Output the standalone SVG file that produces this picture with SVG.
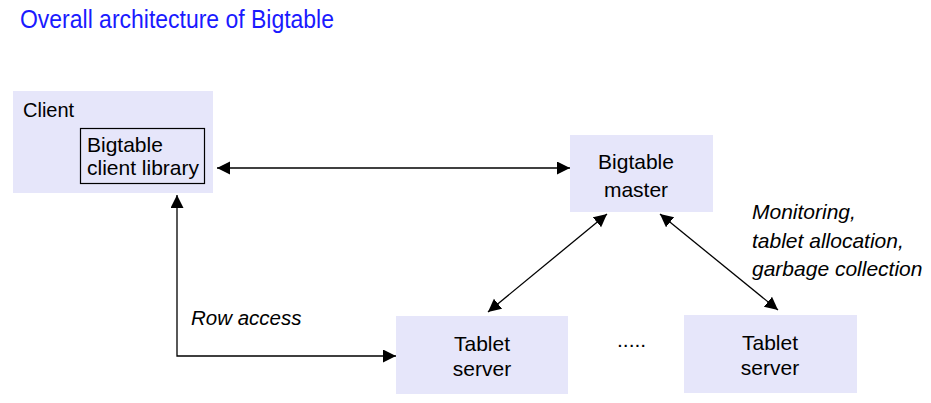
<svg xmlns="http://www.w3.org/2000/svg" width="931" height="403" viewBox="0 0 931 403">
<style>
.box{fill:#e6e6fa;stroke:none}
.inner{fill:#e6e6fa;stroke:#000;stroke-width:1.2}
.t{font-family:"Liberation Sans",Arial,sans-serif;font-size:21px;fill:#000}
.c{text-anchor:middle}
.i{font-style:italic;font-size:20.5px}
.title{font-family:"Liberation Sans",Arial,sans-serif;font-size:25px;fill:#1a1aff}
.edge{fill:none;stroke:#000;stroke-width:1.3;marker-start:url(#ah);marker-end:url(#ah)}
</style>
<defs>
<marker id="ah" markerUnits="userSpaceOnUse" markerWidth="14" markerHeight="14" refX="13" refY="6.5" orient="auto-start-reverse" viewBox="0 0 14 14">
<path d="M0,0 L13,6.5 L0,13 z" fill="#000"/>
</marker>
</defs>
<rect width="931" height="403" fill="#fff"/>
<text class="title" x="20" y="28" textLength="314" lengthAdjust="spacingAndGlyphs">Overall architecture of Bigtable</text>

<g id="client">
<rect class="box" x="13" y="91" width="200" height="102"/>
<text class="t" x="23" y="117" style="font-size:20px">Client</text>
<g id="client-library">
<rect class="inner" x="80.5" y="128.5" width="124" height="55"/>
<text class="t" x="87" y="152">Bigtable</text>
<text class="t" x="87" y="175">client library</text>
</g>
</g>

<g id="master">
<rect class="box" x="570" y="135" width="143" height="77"/>
<text class="t c" x="636" y="169">Bigtable</text>
<text class="t c" x="636" y="197">master</text>
</g>

<g id="tablet-server-1">
<rect class="box" x="396" y="316" width="172" height="78"/>
<text class="t c" x="482" y="351">Tablet</text>
<text class="t c" x="482" y="376">server</text>
</g>

<g id="tablet-server-2">
<rect class="box" x="684" y="315" width="173" height="78"/>
<text class="t c" x="770" y="350">Tablet</text>
<text class="t c" x="770" y="375">server</text>
</g>

<text class="t" x="617" y="347">.....</text>

<g id="connectors">
<line class="edge" x1="217" y1="168" x2="570" y2="168"/>
<polyline class="edge" points="177,195 177,356 396,356"/>
<line class="edge" x1="607" y1="214" x2="488" y2="312"/>
<line class="edge" x1="660" y1="214" x2="778" y2="310"/>
</g>

<g id="labels">
<text class="t i" x="191" y="325">Row access</text>
<text class="t i" x="752" y="219" style="font-size:21px">Monitoring,</text>
<text class="t i" x="752" y="248" style="font-size:21px">tablet allocation,</text>
<text class="t i" x="752" y="276" style="font-size:21px">garbage collection</text>
</g>
</svg>
